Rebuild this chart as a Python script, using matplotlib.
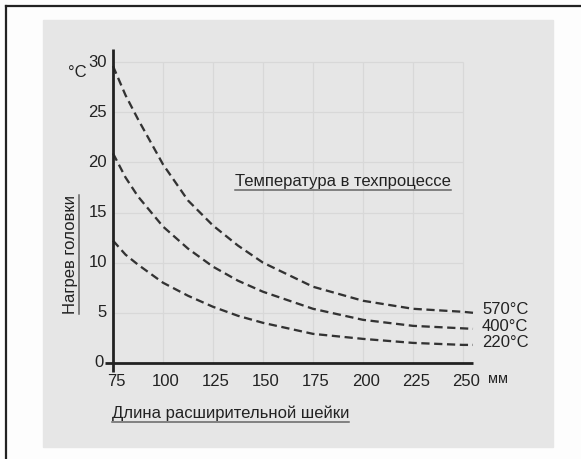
import matplotlib
matplotlib.use("Agg")
import matplotlib.pyplot as plt
from matplotlib.patches import Rectangle
from matplotlib.lines import Line2D

plt.rcParams['font.family'] = ['Liberation Sans', 'DejaVu Sans']

# values
lengths = [75, 81.25, 87.5, 100, 112.5, 125, 137.5, 150, 175, 200, 225, 250, 255]
heat_570 = [29.6, 26.7, 24.3, 19.8, 16.2, 13.7, 11.7, 10.0, 7.6, 6.2, 5.4, 5.1, 5.0]
heat_400 = [20.9, 18.5, 16.6, 13.6, 11.4, 9.6, 8.2, 7.1, 5.4, 4.3, 3.7, 3.45, 3.4]
heat_220 = [12.2, 10.8, 9.8, 8.0, 6.7, 5.6, 4.7, 4.0, 2.9, 2.4, 2.0, 1.8, 1.8]
series_labels = ['570°C', '400°C', '220°C']
label_y = [5.3, 3.6, 2.0]
x_ticks = [75, 100, 125, 150, 175, 200, 225, 250]
y_ticks = [0, 5, 10, 15, 20, 25, 30]

W, H = 581, 459
fig = plt.figure(figsize=(W / 100, H / 100), dpi=100)
fig.patch.set_facecolor('#fdfdfd')

# grey panel and the frame lines at top/left
fig.patches.append(Rectangle((43 / W, 1 - 447 / H), 510 / W, 427 / H,
                             transform=fig.transFigure, color='#e6e6e6', zorder=-5))
fig.lines.append(Line2D([6 / W, 1], [1 - 6 / H, 1 - 6 / H], transform=fig.transFigure,
                        color='#222222', lw=1.6))
fig.lines.append(Line2D([6 / W, 6 / W], [0, 1 - 6 / H], transform=fig.transFigure,
                        color='#222222', lw=1.6))

ax = fig.add_axes([103 / W, 1 - 378 / H, 380 / W, 336 / H])
ax.set_zorder(1)
ax.set_xlim(70, 260)
ax.set_ylim(-1.5, 32)
ax.axis('off')

# grid
ax.vlines(x_ticks[1:], 0, 30, color='#d8d8d8', lw=0.9, zorder=1)
ax.hlines(y_ticks[1:], 75, 250, color='#d8d8d8', lw=0.9, zorder=1)

# axes lines
ax.plot([71, 255], [0, 0], color='#222222', lw=2, solid_capstyle='butt', zorder=3,
        clip_on=False)
ax.plot([75, 75], [-0.9, 31.3], color='#222222', lw=2, solid_capstyle='butt', zorder=3,
        clip_on=False)

dash = (0, (3.6, 2.0))
for ys in (heat_570, heat_400, heat_220):
    ax.plot(lengths, ys, color='#333333', lw=1.65, linestyle=dash, zorder=2)

for lab, yy in zip(series_labels, label_y):
    ax.text(259.5, yy, lab, ha='left', va='center', fontsize=12, color='#222222',
            clip_on=False)

for t in y_ticks:
    ax.text(72 if t else 70.5, t, str(t), ha='right', va='center', fontsize=12,
            color='#222222')
for t in x_ticks:
    ax.text(t + 1.5, -1.8, str(t), ha='center', va='center', fontsize=12,
            color='#222222', clip_on=False)
ax.text(262.5, -1.6, 'мм', ha='left', va='center', fontsize=10.5, color='#222222',
        clip_on=False)
ax.text(62, 29.0, '°C', ha='right', va='center', fontsize=12, color='#222222',
        clip_on=False)

t1 = ax.text(190, 18.1, 'Температура в техпроцессе', ha='center', va='center',
             fontsize=12, color='#222222')
t2 = fig.text(70 / W, 1 - 254 / H, 'Нагрев головки', rotation=90, ha='center',
              va='center', fontsize=12, color='#222222')
t3 = fig.text(112 / W, 1 - 413 / H, 'Длина расширительной шейки', ha='left',
              va='center', fontsize=12, color='#222222')

# underline the three captions
fig.canvas.draw()
r = fig.canvas.get_renderer()
for t in (t1, t3):
    bb = t.get_window_extent(r)
    y = bb.y0 - 1
    fig.lines.append(Line2D([bb.x0 / W, bb.x1 / W], [y / H, y / H],
                            transform=fig.transFigure, color='#666666', lw=1.1))
bb = t2.get_window_extent(r)
x = bb.x1 + 1
fig.lines.append(Line2D([x / W, x / W], [bb.y0 / H, bb.y1 / H],
                        transform=fig.transFigure, color='#666666', lw=1.1))

fig.savefig('out.png', dpi=100, facecolor=fig.get_facecolor())
